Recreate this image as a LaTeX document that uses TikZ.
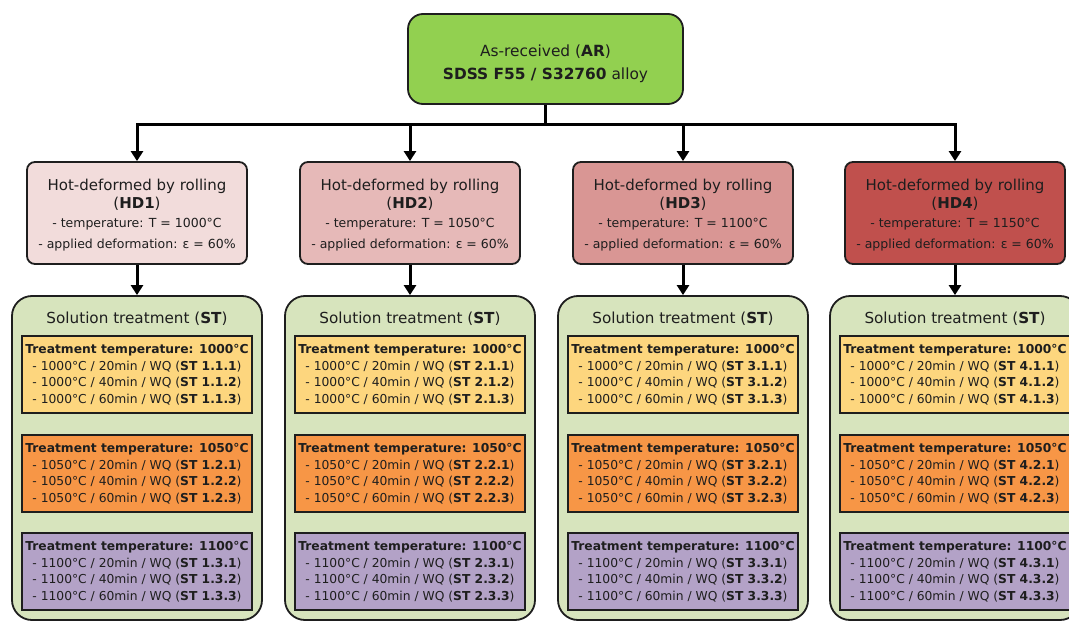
\documentclass[tikz,border=0pt]{standalone}
\usepackage{fontspec}
\setmainfont{DejaVu Sans}
\usetikzlibrary{arrows.meta}
\definecolor{argreen}{HTML}{92D050}
\definecolor{hdone}{HTML}{F2DCDB}
\definecolor{hdtwo}{HTML}{E6B9B8}
\definecolor{hdthree}{HTML}{D99694}
\definecolor{hdfour}{HTML}{C0504D}
\definecolor{stgreen}{HTML}{D7E4BD}
\definecolor{tyellow}{HTML}{FDD67E}
\definecolor{torange}{HTML}{F79646}
\definecolor{tpurple}{HTML}{B3A2C7}
\definecolor{ink}{HTML}{1E1E1E}
\newcommand{\hdsmall}{\fontsize{12.5}{20}\selectfont}
\begin{document}
\begin{tikzpicture}[x=1pt,y=-1pt,
  box/.style={draw=ink, line width=1.8pt, text=ink, inner sep=0pt},
  arbox/.style={box, fill=argreen, rounded corners=15pt, minimum width=275pt, minimum height=90pt},
  artext/.style={text=ink, inner sep=0pt, align=center, font=\fontsize{15.4}{23}\selectfont},
  hdbox/.style={box, rounded corners=8pt, minimum width=220pt, minimum height=102pt, align=center, font=\fontsize{15}{18}\selectfont},
  stbox/.style={box, fill=stgreen, rounded corners=20pt, minimum width=250pt, minimum height=324pt},
  sttitle/.style={text=ink, inner sep=0pt, font=\fontsize{15.2}{18}\selectfont},
  tbox/.style={box, minimum width=230pt, minimum height=77pt, align=center, font=\fontsize{12.3}{16.5}\selectfont},
  conn/.style={line width=3pt, draw=black},
  arr/.style={conn, -{Triangle[width=12pt,length=10pt]}}
]
\useasboundingbox (0,0) rectangle (1069,621);
\clip (0,0) rectangle (1069,621);

\node[arbox] (ar) at (545.5,59) {};
\node[artext] (artxt) at (545.5,64) {As-received (\textbf{AR})\\\textbf{SDSS F55 / S32760} alloy};
\coordinate (bus) at (545.5,124);

\foreach \i/\x/\T/\col in {1/137/1000/hdone, 2/410/1050/hdtwo, 3/683/1100/hdthree, 4/955/1150/hdfour}{
  \node[hdbox, fill=\col] (hd\i) at (\x,213) {\rule{0pt}{15.5pt}Hot-deformed by rolling\\(\textbf{HD\i})\\[1pt]\hdsmall - temperature: T = \T°C\\[2.5pt]\hdsmall - applied deformation: ε = 60\%};
  \node[stbox] (st\i) at (\x,458) {};
  \node[sttitle] (st\i title) at (\x,319) {Solution treatment (\textbf{ST})};
  \foreach \j/\t/\c/\y in {1/1000/tyellow/374.5, 2/1050/torange/473.5, 3/1100/tpurple/571.5}{
    \node[tbox, fill=\c] (st\i t\j) at (\x,\y) {\textbf{Treatment temperature: \t°C}\\
      - \t°C / 20min / WQ (\textbf{ST \i.\j.1})\\
      - \t°C / 40min / WQ (\textbf{ST \i.\j.2})\\
      - \t°C / 60min / WQ (\textbf{ST \i.\j.3})};
  }
  \draw[arr] (hd\i.south) -- (st\i.north);
}

\draw[conn] (ar.south) -- (bus);
\draw[conn, line cap=rect] (hd1.north |- bus) -- (hd4.north |- bus);
\foreach \i in {1,2,3,4}{
  \draw[arr] (hd\i.north |- bus) -- (hd\i.north);
}
\end{tikzpicture}
\end{document}
